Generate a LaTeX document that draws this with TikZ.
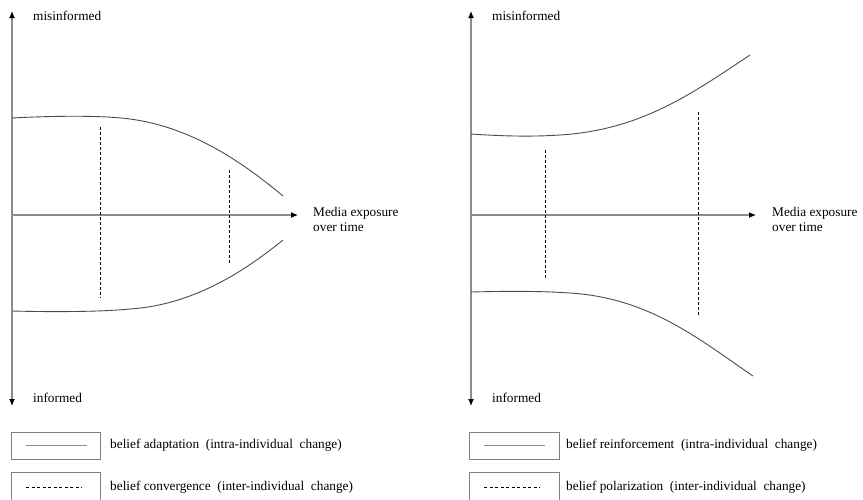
\documentclass[tikz,border=0pt]{standalone}
\usepackage{fontspec}
\setmainfont{Liberation Serif}
\usetikzlibrary{arrows.meta}
\begin{document}
\begin{tikzpicture}[x=1pt,y=-1pt,
  axis/.style={draw=black!45,line width=1.1pt},
  tipend/.style={-{Latex[length=7pt,width=6pt,black]}},
  tipboth/.style={{Latex[length=7pt,width=6pt,black]}-{Latex[length=7pt,width=6pt,black]}},
  curve/.style={draw=black!70,line width=0.9pt},
  dline/.style={draw=black,line width=1pt,dash pattern=on 3pt off 2pt},
  lbl/.style={font=\fontsize{13.3pt}{15pt}\selectfont,inner sep=0pt,anchor=west,align=left},
  legbox/.style={draw=black!50,line width=1pt},
  legsolid/.style={draw=black!45,line width=0.9pt},
  legdash/.style={draw=black,line width=0.8pt,dash pattern=on 3pt off 2.5pt}]
\useasboundingbox (0,0) rectangle (863,499);
\clip (0,0) rectangle (863,499);

% ---------- left panel ----------
\coordinate (LT) at (12,11);
\coordinate (LB) at (12,406);
\coordinate (LO) at (12,215);
\coordinate (LX) at (298,215);
\draw[axis,tipboth] (LT) -- (LB);
\draw[axis,tipend] (LO) -- (LX);
\node[lbl] (lmis) at (33,16) {misinformed};
\node[lbl] (linf) at (33,398) {informed};
\node[lbl] (lmed) at (313,219) {Media exposure\\over time};

\draw[curve] (12,118) .. controls (50,116) and (100,115) .. (130,119)
  .. controls (190,127) and (240,160) .. (283,196);
\draw[curve] (12,311) .. controls (50,312) and (100,312) .. (130,309)
  .. controls (190,305) and (240,275) .. (283,240);
\coordinate (ld1a) at (100,127); \coordinate (ld1b) at (100,298);
\coordinate (ld2a) at (229,170); \coordinate (ld2b) at (229,264);
\draw[dline] (ld1a) -- (ld1b);
\draw[dline] (ld2a) -- (ld2b);

% ---------- right panel ----------
\coordinate (RT) at (471,11);
\coordinate (RB) at (471,406);
\coordinate (RO) at (471,215);
\coordinate (RX) at (756,215);
\draw[axis,tipboth] (RT) -- (RB);
\draw[axis,tipend] (RO) -- (RX);
\node[lbl] (rmis) at (492,16) {misinformed};
\node[lbl] (rinf) at (492,398) {informed};
\node[lbl] (rmed) at (772,219) {Media exposure\\over time};

\draw[curve] (471,134) .. controls (500,136) and (530,137) .. (560,135)
  .. controls (640,130) and (690,95) .. (750,55);
\draw[curve] (471,292) .. controls (510,291) and (540,291) .. (570,293)
  .. controls (650,298) and (700,340) .. (753,376);
\coordinate (rd1a) at (545,150); \coordinate (rd1b) at (545,278);
\coordinate (rd2a) at (698,112); \coordinate (rd2b) at (698,315);
\draw[dline] (rd1a) -- (rd1b);
\draw[dline] (rd2a) -- (rd2b);

% ---------- legends ----------
\draw[legbox] (11,432) rectangle (100,459);
\coordinate (ls1a) at (26,445); \coordinate (ls1b) at (87,445);
\draw[legsolid] (ls1a) -- (ls1b);
\node[lbl] (lt1) at (110,445) {belief adaptation\ \ (intra-individual\ \ change)};
\draw[legbox] (11,472) rectangle (100,505);
\coordinate (ls2a) at (26,487); \coordinate (ls2b) at (82,487);
\draw[legdash] (ls2a) -- (ls2b);
\node[lbl] (lt2) at (110,487) {belief convergence\ \ (inter-individual\ \ change)};

\draw[legbox] (469,432) rectangle (559,459);
\coordinate (rs1a) at (484,445); \coordinate (rs1b) at (545,445);
\draw[legsolid] (rs1a) -- (rs1b);
\node[lbl] (rt1) at (566,445) {belief reinforcement\ \ (intra-individual\ \ change)};
\draw[legbox] (469,472) rectangle (559,505);
\coordinate (rs2a) at (484,487); \coordinate (rs2b) at (540,487);
\draw[legdash] (rs2a) -- (rs2b);
\node[lbl] (rt2) at (566,487) {belief polarization\ \ (inter-individual\ \ change)};
\end{tikzpicture}
\end{document}
